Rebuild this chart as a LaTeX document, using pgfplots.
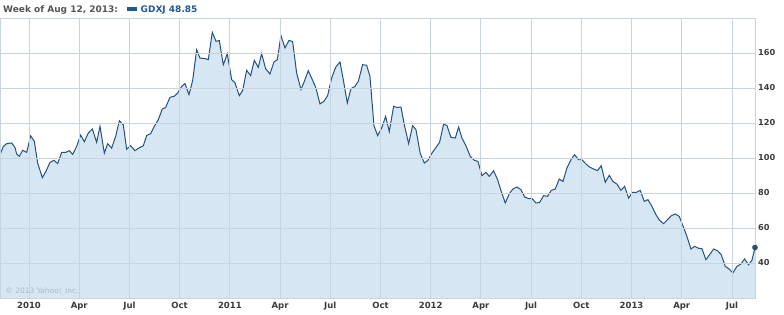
\documentclass[border=0pt]{standalone}
\usepackage{pgfplots}
\pgfplotsset{compat=1.18}
\usepackage{fontspec}
\setmainfont{DejaVu Sans}
\definecolor{linec}{HTML}{24517F}
\definecolor{fillc}{HTML}{D6E6F2}
\definecolor{gridc}{HTML}{C9D4DE}
\definecolor{hdrgray}{HTML}{555555}
\definecolor{hdrblue}{HTML}{1F5A92}
\definecolor{tickc}{HTML}{3A3A3A}
\definecolor{copyc}{HTML}{AEBBC7}
\begin{document}
\begin{tikzpicture}[x=1bp,y=1bp]
\useasboundingbox (0,-16) rectangle (784,298);
\begin{axis}[
  at={(0,0)}, anchor=south west,
  width=755bp, height=280bp, scale only axis,
  xmin=-1.733, xmax=43.38, ymin=20, ymax=180,
  axis on top,
  axis line style={gridc},
  grid=major, major grid style={gridc, line width=0.8pt},
  major tick length=0pt,
  xtick={0,3,6,9,12,15,18,21,24,27,30,33,36,39,42},
  xticklabels={2010,Apr,Jul,Oct,2011,Apr,Jul,Oct,2012,Apr,Jul,Oct,2013,Apr,Jul},
  ytick={40,60,80,100,120,140,160,180},
  yticklabels={40,60,80,100,120,140,160,},
  yticklabel pos=right,
  /pgf/number format/assume math mode=true,
  xticklabel style={font=\fontsize{8.5bp}{10bp}\selectfont\bfseries, text=tickc, inner sep=0pt, anchor=north, yshift=-4bp},
  yticklabel style={font=\fontsize{8.2bp}{10bp}\selectfont\bfseries, text=tickc, inner sep=0pt, anchor=west, xshift=3bp},
]
\addplot[draw=none, fill=fillc] coordinates {
(-1.733,101.9) (-1.534,106.6) (-1.334,108.2) (-1.036,108.6) (-0.837,106.0) (-0.737,102.3) (-0.578,101.0) (-0.378,104.4) (-0.139,103.2) (0.099,112.7)
(0.318,109.5) (0.518,97.1) (0.796,88.8) (1.016,92.4) (1.254,97.5) (1.493,98.7) (1.712,96.8) (1.951,103.2) (2.190,103.2) (2.409,104.2)
(2.609,102.1) (2.848,106.7) (3.087,113.1) (3.306,109.3) (3.545,114.3) (3.783,116.6) (4.042,109.0) (4.242,118.1) (4.501,102.8) (4.700,108.2)
(4.939,105.7) (5.178,112.4) (5.397,121.3) (5.636,118.9) (5.835,105.1) (6.074,107.0) (6.333,104.2) (6.592,105.9) (6.831,107.0) (7.030,112.9)
(7.269,113.9) (7.488,118.1) (7.727,121.9) (7.966,128.0) (8.165,128.9) (8.424,134.7) (8.663,135.2) (8.882,137.1) (9.121,140.9) (9.320,142.5)
(9.559,136.2) (9.778,144.2) (10.017,161.9) (10.216,157.1) (10.515,156.8) (10.714,156.2) (10.953,171.8) (11.172,166.7) (11.371,167.1) (11.610,153.3)
(11.849,159.6) (12.108,144.8) (12.307,142.9) (12.566,135.6) (12.765,138.5) (13.004,150.1) (13.243,147.1) (13.462,155.8) (13.701,151.8) (13.900,159.6)
(14.139,151.0) (14.398,148.0) (14.637,154.9) (14.836,156.2) (15.055,169.9) (15.294,162.9) (15.533,167.2) (15.752,166.5) (15.991,148.6) (16.250,139.1)
(16.450,143.8) (16.688,149.9) (16.927,144.8) (17.146,140.0) (17.385,130.9) (17.624,132.4) (17.843,135.6) (18.082,145.7) (18.321,151.8) (18.580,154.9)
(18.779,144.8) (19.018,131.4) (19.237,139.6) (19.476,140.9) (19.676,143.8) (19.935,153.3) (20.173,153.0) (20.373,146.7) (20.612,118.5) (20.831,112.8)
(21.070,117.1) (21.309,123.8) (21.528,115.1) (21.687,124.0) (21.787,129.5) (21.986,128.9) (22.225,129.1) (22.444,118.1) (22.683,108.2) (22.922,118.5)
(23.121,116.2) (23.380,102.5) (23.619,97.1) (23.838,98.7) (24.077,102.8) (24.316,106.0) (24.535,109.0) (24.774,119.4) (24.973,118.5) (25.212,111.8)
(25.471,111.4) (25.670,117.7) (25.869,111.4) (26.108,107.0) (26.367,100.9) (26.606,98.7) (26.825,98.1) (27.064,89.9) (27.303,91.8) (27.502,89.5)
(27.761,92.7) (28.000,87.6) (28.219,80.9) (28.458,74.3) (28.697,79.6) (28.916,82.3) (29.155,83.4) (29.394,81.9) (29.613,77.7) (29.852,76.8)
(30.051,76.9) (30.290,74.3) (30.509,74.6) (30.748,78.5) (30.987,78.1) (31.206,81.5) (31.445,82.3) (31.684,88.0) (31.903,86.6) (32.142,94.3)
(32.381,99.0) (32.600,101.9) (32.839,99.0) (33.038,99.0) (33.277,96.6) (33.496,94.8) (33.735,93.7) (33.974,92.8) (34.193,95.6) (34.432,86.1)
(34.671,90.1) (34.890,86.6) (35.129,85.1) (35.368,81.5) (35.587,83.8) (35.826,77.1) (36.065,80.4) (36.284,80.4) (36.523,81.5) (36.762,75.2)
(36.981,76.2) (37.220,72.4) (37.459,67.6) (37.678,64.4) (37.917,62.5) (38.157,64.8) (38.376,67.0) (38.615,68.0) (38.854,66.6) (39.073,61.3)
(39.312,55.2) (39.551,48.0) (39.770,49.5) (40.009,48.4) (40.208,48.2) (40.447,41.9) (40.666,44.7) (40.905,48.0) (41.144,47.0) (41.363,44.7)
(41.602,38.1) (41.841,36.5) (42.060,34.3) (42.299,38.1) (42.538,39.4) (42.757,42.3) (42.996,39.0) (43.195,41.5) (43.38,48.85)
} \closedcycle;
\addplot[linec, line width=1pt, mark=none] coordinates {
(-1.733,101.9) (-1.534,106.6) (-1.334,108.2) (-1.036,108.6) (-0.837,106.0) (-0.737,102.3) (-0.578,101.0) (-0.378,104.4) (-0.139,103.2) (0.099,112.7)
(0.318,109.5) (0.518,97.1) (0.796,88.8) (1.016,92.4) (1.254,97.5) (1.493,98.7) (1.712,96.8) (1.951,103.2) (2.190,103.2) (2.409,104.2)
(2.609,102.1) (2.848,106.7) (3.087,113.1) (3.306,109.3) (3.545,114.3) (3.783,116.6) (4.042,109.0) (4.242,118.1) (4.501,102.8) (4.700,108.2)
(4.939,105.7) (5.178,112.4) (5.397,121.3) (5.636,118.9) (5.835,105.1) (6.074,107.0) (6.333,104.2) (6.592,105.9) (6.831,107.0) (7.030,112.9)
(7.269,113.9) (7.488,118.1) (7.727,121.9) (7.966,128.0) (8.165,128.9) (8.424,134.7) (8.663,135.2) (8.882,137.1) (9.121,140.9) (9.320,142.5)
(9.559,136.2) (9.778,144.2) (10.017,161.9) (10.216,157.1) (10.515,156.8) (10.714,156.2) (10.953,171.8) (11.172,166.7) (11.371,167.1) (11.610,153.3)
(11.849,159.6) (12.108,144.8) (12.307,142.9) (12.566,135.6) (12.765,138.5) (13.004,150.1) (13.243,147.1) (13.462,155.8) (13.701,151.8) (13.900,159.6)
(14.139,151.0) (14.398,148.0) (14.637,154.9) (14.836,156.2) (15.055,169.9) (15.294,162.9) (15.533,167.2) (15.752,166.5) (15.991,148.6) (16.250,139.1)
(16.450,143.8) (16.688,149.9) (16.927,144.8) (17.146,140.0) (17.385,130.9) (17.624,132.4) (17.843,135.6) (18.082,145.7) (18.321,151.8) (18.580,154.9)
(18.779,144.8) (19.018,131.4) (19.237,139.6) (19.476,140.9) (19.676,143.8) (19.935,153.3) (20.173,153.0) (20.373,146.7) (20.612,118.5) (20.831,112.8)
(21.070,117.1) (21.309,123.8) (21.528,115.1) (21.687,124.0) (21.787,129.5) (21.986,128.9) (22.225,129.1) (22.444,118.1) (22.683,108.2) (22.922,118.5)
(23.121,116.2) (23.380,102.5) (23.619,97.1) (23.838,98.7) (24.077,102.8) (24.316,106.0) (24.535,109.0) (24.774,119.4) (24.973,118.5) (25.212,111.8)
(25.471,111.4) (25.670,117.7) (25.869,111.4) (26.108,107.0) (26.367,100.9) (26.606,98.7) (26.825,98.1) (27.064,89.9) (27.303,91.8) (27.502,89.5)
(27.761,92.7) (28.000,87.6) (28.219,80.9) (28.458,74.3) (28.697,79.6) (28.916,82.3) (29.155,83.4) (29.394,81.9) (29.613,77.7) (29.852,76.8)
(30.051,76.9) (30.290,74.3) (30.509,74.6) (30.748,78.5) (30.987,78.1) (31.206,81.5) (31.445,82.3) (31.684,88.0) (31.903,86.6) (32.142,94.3)
(32.381,99.0) (32.600,101.9) (32.839,99.0) (33.038,99.0) (33.277,96.6) (33.496,94.8) (33.735,93.7) (33.974,92.8) (34.193,95.6) (34.432,86.1)
(34.671,90.1) (34.890,86.6) (35.129,85.1) (35.368,81.5) (35.587,83.8) (35.826,77.1) (36.065,80.4) (36.284,80.4) (36.523,81.5) (36.762,75.2)
(36.981,76.2) (37.220,72.4) (37.459,67.6) (37.678,64.4) (37.917,62.5) (38.157,64.8) (38.376,67.0) (38.615,68.0) (38.854,66.6) (39.073,61.3)
(39.312,55.2) (39.551,48.0) (39.770,49.5) (40.009,48.4) (40.208,48.2) (40.447,41.9) (40.666,44.7) (40.905,48.0) (41.144,47.0) (41.363,44.7)
(41.602,38.1) (41.841,36.5) (42.060,34.3) (42.299,38.1) (42.538,39.4) (42.757,42.3) (42.996,39.0) (43.195,41.5) (43.38,48.85)
};
\addplot[linec, mark=*, mark size=2.6pt, only marks, clip=false] coordinates {(43.38,48.85)};
\node[anchor=base west, inner sep=0pt, text=copyc, font=\fontsize{7.5bp}{8bp}\selectfont] at (rel axis cs:0.007,0.016) {© 2013 Yahoo! Inc.};
\end{axis}
\node[anchor=base west, inner sep=0pt, text=hdrgray, font=\fontsize{9bp}{10bp}\selectfont\bfseries] at (3,285.7) {Week of Aug 12, 2013:};
\fill[hdrblue] (127,287.3) rectangle (137,290.7);
\node[anchor=base west, inner sep=0pt, text=hdrblue, font=\fontsize{9bp}{10bp}\selectfont\bfseries] at (140.5,285.7) {GDXJ 48.85};
\end{tikzpicture}
\end{document}
